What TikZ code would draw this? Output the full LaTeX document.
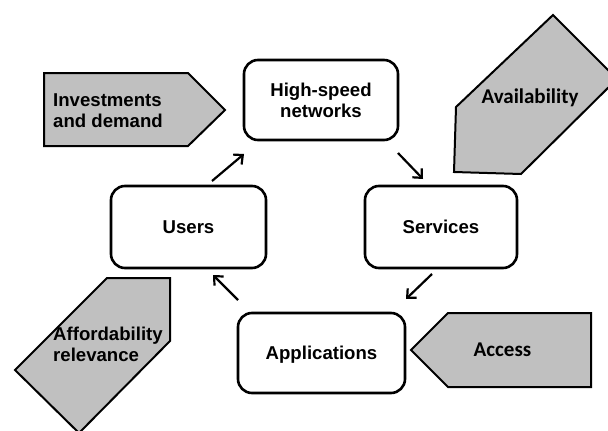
\documentclass[tikz,border=0pt]{standalone}
\usepackage{fontspec}
\setmainfont{Liberation Sans}
\newfontfamily\calib{Carlito}
\usetikzlibrary{arrows.meta}
\definecolor{shapegray}{HTML}{C0C0C0}
\tikzset{
  boxnode/.style={draw=black, line width=2.6pt, rounded corners=14pt, fill=white,
    align=center, inner sep=0pt, text depth=0pt,
    font=\fontsize{18.6}{21}\selectfont\bfseries},
  pent/.style={draw=black, line width=2pt, fill=shapegray, line join=miter},
  arialtxt/.style={inner sep=0pt, align=left, font=\fontsize{18.6}{21}\selectfont\bfseries},
  calibtxt/.style={inner sep=0pt, font=\fontsize{21}{25}\calib\bfseries},
  flow/.style={line width=2.2pt, -{Straight Barb[length=7pt,width=13pt,line width=2.2pt]}}
}
\begin{document}
\begin{tikzpicture}[x=1pt,y=-1pt]
\useasboundingbox (0,0) rectangle (608,431);
% grey pentagon shapes
\draw[pent] (44,73) -- (188,73) -- (225,110) -- (188,146) -- (44,146) -- cycle;
\draw[pent] (454,172) -- (456,107) -- (553,15) -- (617,79) -- (521,174) -- cycle;
\draw[pent] (170,278) -- (107,278) -- (15,370) -- (79,433) -- (170,341) -- cycle;
\draw[pent] (411,350) -- (448,313) -- (591,313) -- (591,387) -- (448,387) -- cycle;
% texts in the grey shapes
\node[arialtxt, anchor=west] (inv) at (53,110.8) {Investments\\and demand};
\node[calibtxt, anchor=base] (avail) at (530,103) {Availability};
\node[arialtxt, anchor=west] (aff) at (53,344.8) {Affordability\\relevance};
\node[calibtxt, anchor=base] (acc) at (502.5,356) {Access};
% boxes
\node[boxnode, minimum width=154pt, minimum height=80pt] (hs) at (321,100) {High-speed\\networks};
\node[boxnode, minimum width=155pt, minimum height=82pt] (users) at (188.5,227) {Users};
\node[boxnode, minimum width=152pt, minimum height=82pt] (serv) at (441,227) {Services};
\node[boxnode, minimum width=167pt, minimum height=80pt] (apps) at (321.5,353) {Applications};
% arrow end points
\coordinate (u1) at (212,181);
\coordinate (h1) at (244,154);
\coordinate (h2) at (398,153);
\coordinate (s1) at (423,179);
\coordinate (s2) at (432,274);
\coordinate (a1) at (406,299);
\coordinate (a2) at (238,300);
\coordinate (u2) at (213,275);
\draw[flow] (u1) -- (h1);
\draw[flow] (h2) -- (s1);
\draw[flow] (s2) -- (a1);
\draw[flow] (a2) -- (u2);
\end{tikzpicture}
\end{document}
